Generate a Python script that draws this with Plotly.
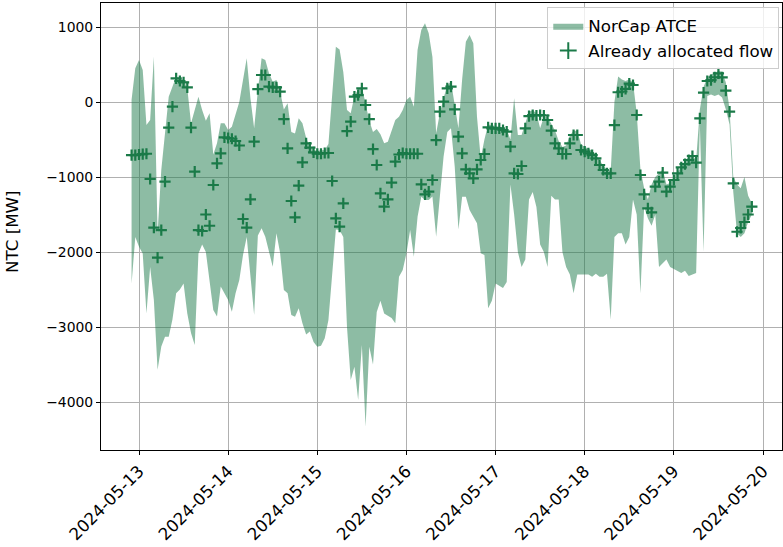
import pandas as pd
import plotly.graph_objects as go

# hourly timestamps, 2024-05-12 22:00 .. 2024-05-19 21:00
times = pd.date_range("2024-05-12 22:00", periods=168, freq="h")

already_allocated_flow = [
    -707, -707, -700, -695, -690, -1027, -1675, -2075, -1707, -1062,
    -342, -62, 316, 280, 262, 196, -342, -929, -1707, -1720,
    -1500, -1650, -1107, -818, -684, -471, -480, -490, -520, -580,
    -1560, -1675, -1298, -529, 173, 360, 360, 204, 196, 196,
    138, -227, -618, -1320, -1538, -1115, -804, -551, -609, -671,
    -690, -690, -680, -680, -1053, -1551, -1662, -1351, -387, -262,
    71, 93, 182, -40, -227, -627, -840, -1218, -1395, -1298,
    -1075, -796, -700, -680, -690, -690, -690, -690, -1098, -1231,
    -1195, -1040, -507, -129, 4, 182, 204, -98, -462, -684,
    -898, -951, -1018, -898, -773, -693, -338, -351, -351, -351,
    -373, -396, -596, -951, -960, -853, -351, -187, -173, -180,
    -173, -180, -240, -382, -551, -618, -693, -693, -551, -440,
    -440, -640, -662, -684, -707, -751, -840, -907, -951, -951,
    -307, 130, 140, 175, 245, 227, -173, -973, -1231, -1418,
    -1471, -1129, -1062, -942, -1195, -1129, -1040, -951, -871, -827,
    -773, -720, -809, -218, 124, 280, 293, 330, 382, 329,
    151, -129, -1084, -1730, -1680, -1600, -1500, -1395,
]

norcap_upper = [
    30, 450, 560, 427, -307, -240, 604, -1750, -907, -418,
    71, 204, 338, 316, 293, 182, -284, -107, 71, -107,
    -250, -151, -700, -550, -284, -284, -373, -329, -151, 0,
    293, 582, 50, -350, 150, 582, 560, 382, 271, 293,
    138, -100, -18, -400, -420, -218, -284, -480, -600, -640,
    -650, -650, -640, -560, 50, 738, 700, 400, -107, -150,
    80, 170, 204, -20, -250, -400, -360, -430, -550, -530,
    -373, -240, -196, -107, 27, 71, -62, 693, 960, 1049,
    916, 600, -418, -151, 49, 227, 270, -50, -350, 300,
    804, 893, 782, -200, -750, -500, -300, -310, -320, -320,
    -340, -370, -500, 50, -440, -440, -290, -130, -110, -150,
    -350, -200, -200, -300, -380, -520, -600, -580, -450, -380,
    -390, -560, -600, -620, -650, -700, -780, -850, -900, -920,
    0, 340, 300, 280, 300, 260, -150, -900, -1150, -1300,
    -1100, -1000, -950, -900, -1100, -1080, -1000, -930, -860, -800,
    -730, -700, -780, -100, 200, 330, 370, 380, 420, 400,
    260, -100, -1000, -1100, -1150, -1000, -1250, -1350,
]

norcap_lower = [
    -2420, -1800, -1930, -2020, -2820, -2200, -2640, -3570, -3260, -3130,
    -3130, -2900, -2550, -2500, -2420, -2820, -3080, -3240, -2020, -1900,
    -2000, -2400, -2773, -2860, -2460, -2550, -2640, -2795, -2550, -2373,
    -2040, -1800, -2330, -2840, -1780, -1684, -1795, -2018, -2195, -1750,
    -2018, -2506, -2550, -2840, -2862, -2750, -2950, -3100, -3060, -3200,
    -3262, -3250, -3150, -2906, -2300, -1700, -1707, -1800, -3000, -3706,
    -3530, -3973, -3240, -4330, -3262, -3500, -2800, -2650, -2820, -2850,
    -2880, -2950, -2330, -2240, -2018, -1707, -2062, -1530, -1262, -1307,
    -1307, -1260, -1795, -1260, -730, -400, -350, -860, -1700, -1262,
    -1262, -1440, -1530, -1618, -2018, -2040, -2750, -2650, -2420, -2450,
    -2480, -2400, -1100, -1500, -2000, -2200, -2100, -1300, -1200, -1400,
    -1900, -2000, -2200, -1250, -1300, -1300, -2000, -2200, -2300, -2550,
    -2300, -2300, -2300, -2300, -2330, -2290, -2330, -2330, -2290, -2900,
    -1800, -1750, -1750, -1900, -1800, -1300, -1500, -2550, -1400, -1550,
    -1650, -1500, -2200, -2150, -2100, -2200, -2230, -2250, -2280, -2250,
    -2320, -2300, -2280, -300, -2000, 80, 100, 80, 100, 60,
    -100, -300, -1200, -1750, -1800, -1750, -1600, -1500,
]

y_ticks = [-4000, -3000, -2000, -1000, 0, 1000]
x_ticks = ["2024-05-13", "2024-05-14", "2024-05-15", "2024-05-16",
           "2024-05-17", "2024-05-18", "2024-05-19", "2024-05-20"]

FONT = "DejaVu Sans"
FS = 13.9
FS_BIG = 16.7
fill_col = "rgba(27,122,74,0.5)"
mark_col = "#1a7a48"

fig = go.Figure()
fig.add_trace(go.Scatter(x=times, y=norcap_lower, mode="lines",
                         line=dict(width=0, color=fill_col),
                         showlegend=False, hoverinfo="skip"))
fig.add_trace(go.Scatter(x=times, y=norcap_upper, mode="lines",
                         line=dict(width=0, color=fill_col),
                         fill="tonexty", fillcolor=fill_col,
                         name="NorCap ATCE"))
fig.add_trace(go.Scatter(x=times, y=already_allocated_flow, mode="markers",
                         marker=dict(symbol="cross-thin", size=8,
                                     color=mark_col,
                                     line=dict(width=2.2, color=mark_col)),
                         name="Already allocated flow"))

axis_common = dict(
    showline=True, linecolor="black", linewidth=1, mirror=True,
    ticks="outside", ticklen=4, tickwidth=1, tickcolor="black",
    showgrid=True, gridcolor="#b0b0b0", gridwidth=1, zeroline=False,
    automargin=False,
)

fig.update_layout(
    width=783, height=547,
    margin=dict(l=101, r=1, t=3, b=97),
    paper_bgcolor="white", plot_bgcolor="white",
    font=dict(family=FONT, size=FS, color="black"),
    xaxis=dict(type="date",
               range=["2024-05-12 13:46", "2024-05-20 05:07"],
               tickvals=x_ticks, ticktext=x_ticks, tickangle=-45,
               tickfont=dict(family=FONT, size=FS_BIG, color="black"),
               **axis_common),
    yaxis=dict(range=[-4640, 1320], tickvals=y_ticks,
               tickfont=dict(family=FONT, size=FS, color="black"),
               **axis_common),
    legend=dict(x=0.996, y=0.99, xanchor="right", yanchor="top",
                traceorder="normal", tracegroupgap=0,
                bgcolor="rgba(255,255,255,0.8)", bordercolor="#cccccc",
                borderwidth=1,
                font=dict(family=FONT, size=FS_BIG, color="black"),
                itemsizing="constant"),
    annotations=[dict(text="NTC [MW]", textangle=-90, showarrow=False,
                      xref="paper", yref="paper", x=-0.1307, y=0.49,
                      xanchor="center", yanchor="middle",
                      font=dict(family=FONT, size=FS_BIG, color="black"))],
)

fig.write_html("out.html",
               config={"displayModeBar": False},
               post_script="document.body.style.margin='0px';"
                           "document.body.style.overflow='hidden';")
